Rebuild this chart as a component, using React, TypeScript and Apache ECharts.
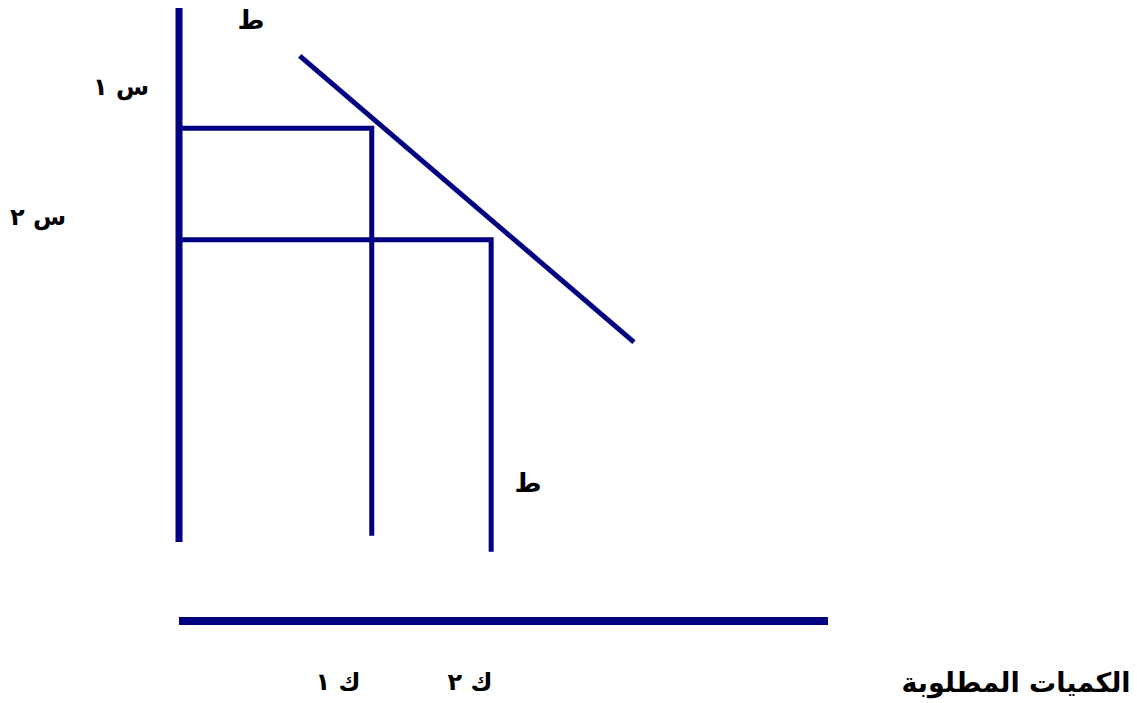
import React, { useEffect, useRef } from "react";
import * as echarts from "echarts";

// Conceptual units: quantity (x) 0..100, price (y) 0..100
const priceAxisLine: [number, number][] = [[0, 100], [0, 12.9]];
const quantityAxisLine: [number, number][] = [[0, 0], [100, 0]];
const demandLine: [number, number][] = [[18.6, 92.2], [70.1, 45.5]];
const price1Path: [number, number][] = [[0, 80.4], [29.7, 80.4], [29.7, 13.9]];
const price2Path: [number, number][] = [[0, 62.2], [48.1, 62.2], [48.1, 11.3]];

const labelTexts = {
  demandTop: "ط",
  demandBottom: "ط",
  p1: "س ١",
  p2: "س ٢",
  q1: "ك ١",
  q2: "ك ٢",
  xTitle: "الكميات المطلوبة",
};

const NAVY = "#000080";

export default function App() {
  const ref = useRef<HTMLDivElement>(null);
  useEffect(() => {
    if (!ref.current) return;
    const chart = echarts.init(ref.current, undefined, { renderer: "svg" });
    const lineSeries = (data: [number, number][], width: number) => ({
      type: "line",
      data,
      symbol: "none",
      clip: false,
      silent: true,
      lineStyle: { color: NAVY, width, cap: "butt", join: "miter" },
    });
    const font = { fontFamily: "DejaVu Sans", fontWeight: "bold", fill: "#000" };
    const txt = (text: string, x: number, y: number, size = 24) => ({
      type: "text",
      x,
      y,
      style: { ...font, fontSize: size, text, align: "center", verticalAlign: "middle" },
    });
    chart.setOption({
      animation: false,
      grid: { left: 179, right: 309, top: 8, bottom: 82 },
      xAxis: { type: "value", min: 0, max: 100, show: false },
      yAxis: { type: "value", min: 0, max: 100, show: false },
      series: [
        lineSeries(priceAxisLine, 7),
        lineSeries(quantityAxisLine, 8),
        lineSeries(price1Path, 5),
        lineSeries(price2Path, 5),
        lineSeries(demandLine, 5),
      ],
      graphic: [
        txt(labelTexts.demandTop, 251, 20, 26),
        txt(labelTexts.p1, 121, 87),
        txt(labelTexts.p2, 38, 217),
        txt(labelTexts.demandBottom, 528, 483, 26),
        txt(labelTexts.q1, 338, 682),
        txt(labelTexts.q2, 470, 682),
        txt(labelTexts.xTitle, 1016, 682, 27),
      ],
    });
    return () => chart.dispose();
  }, []);
  return <div ref={ref} style={{ width: 1137, height: 703, position: "absolute", left: 0, top: 0, background: "#fff" }} />;
}
